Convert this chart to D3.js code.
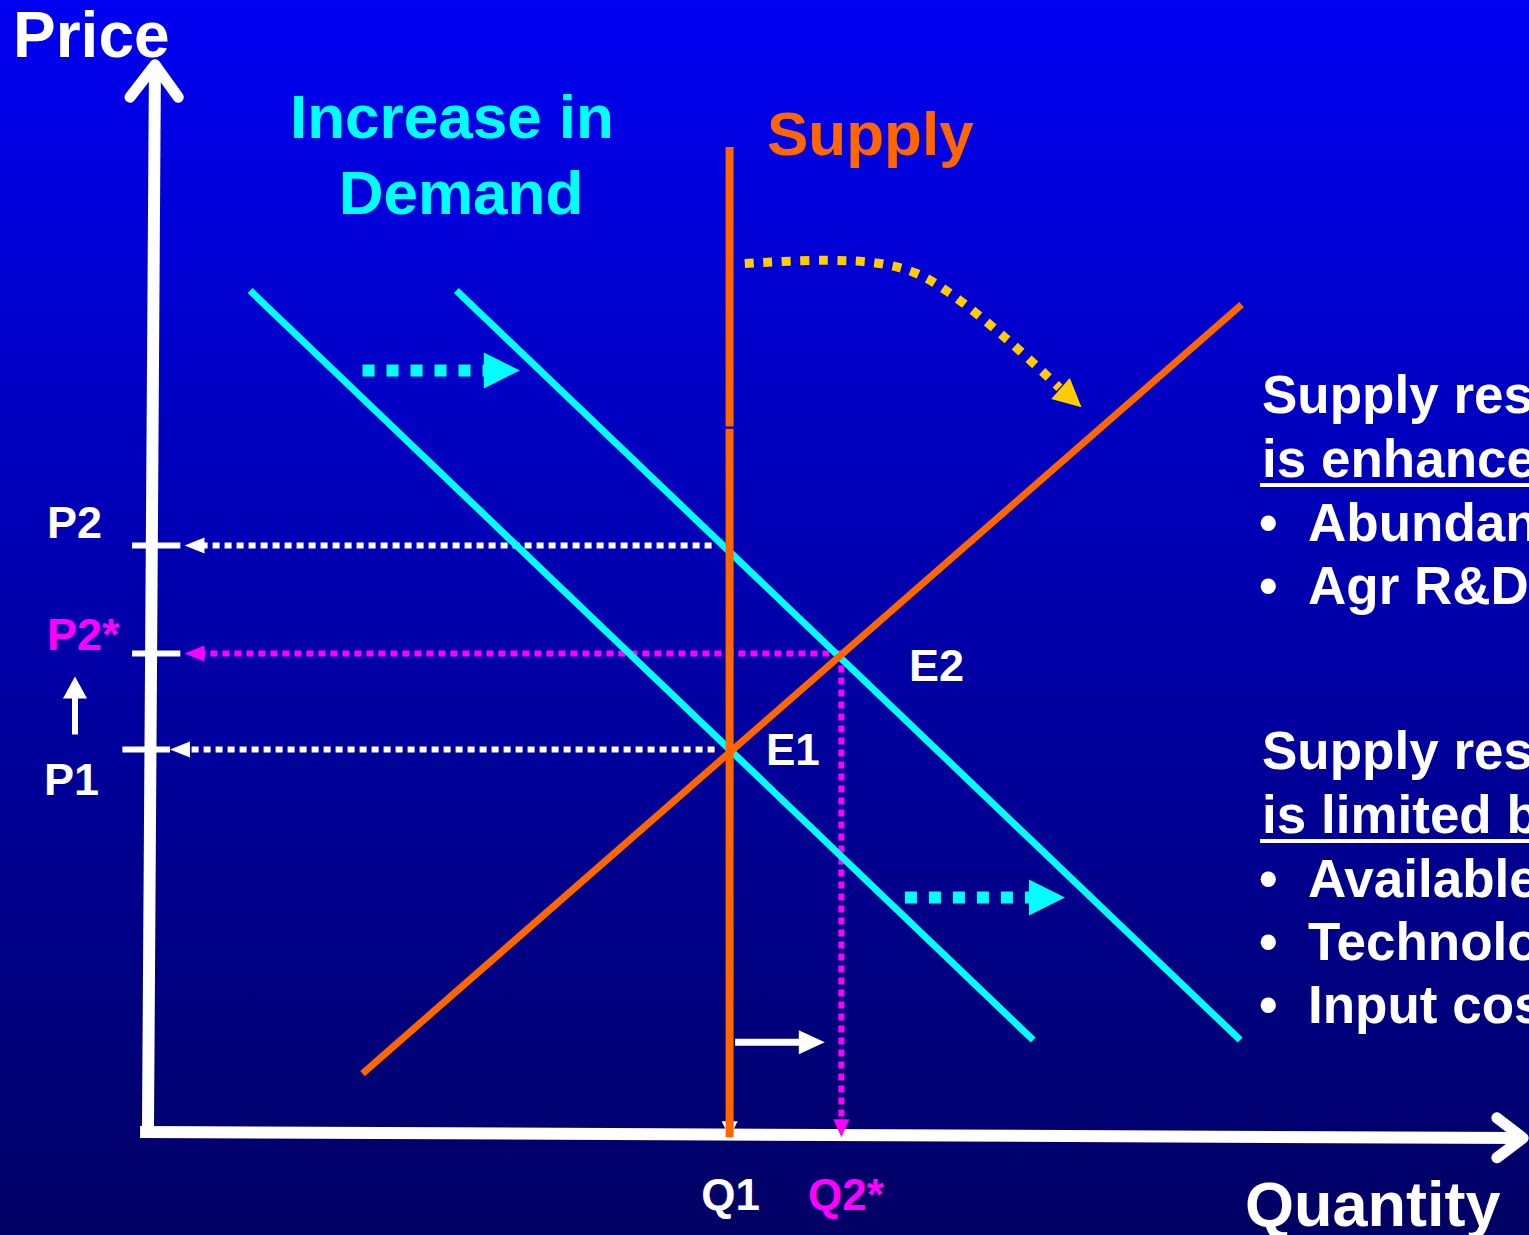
<!DOCTYPE html>
<html>
<head>
<meta charset="utf-8">
<script src="https://cdn.jsdelivr.net/npm/d3@7"></script>
<style>
  html, body { margin: 0; padding: 0; overflow: hidden; }
  svg { display: block; }
  text { font-family: "Liberation Sans", Arial, sans-serif; font-weight: bold; }
</style>
</head>
<body>
<svg id="chart"></svg>
<script>
// data, in chart units (quantity 0-100, price 0-100)
var demand1 = [[7.25, 78.1], [64.0, 8.7]];
var demand2 = [[22.2, 78.1], [79.0, 8.7]];
var supplyUp = [[15.4, 5.6], [79.1, 76.8]];
var supplyFixedQ = 42.0;
var supplyFixedTop = 91.4;

var priceLabels = ["P2", "P2*", "P1"];
var priceValues = [54.5, 44.5, 35.6];
var quantityLabels = ["Q1", "Q2*"];
var quantityValues = [42.0, 50.1];

// curve showing supply rotating out
var rotatePath = [[43.1, 80.6], [48.8, 80.9], [52.9, 80.6], [55.5, 79.7], [57.8, 78.0], [62.0, 73.7], [65.9, 69.1]];
var rotateTip = [67.5, 67.3];

var shiftD1 = [[15.4, 70.7], [26.8, 70.7]];
var shiftD2 = [[54.7, 21.9], [66.3, 21.9]];
var shiftQ = [[42.4, 8.5], [48.9, 8.5]];

var enhancedBy = ["Supply response", "is enhanced by:"];
var enhancedItems = ["Abundant resources", "Agr R&D"];
var limitedBy = ["Supply response", "is limited by:"];
var limitedItems = ["Available resources", "Technology", "Input costs"];

(function() {
    var width = 1529, height = 1235;

    var svg = d3.select("#chart")
        .attr("width", width)
        .attr("height", height);

    var x = d3.scaleLinear().domain([0, 100]).range([150, 1530]);
    var y = d3.scaleLinear().domain([0, 100]).range([1134, 54]);

    // background gradient
    var grad = svg.append("defs").append("linearGradient")
        .attr("id", "bg").attr("x1", 0).attr("y1", 0).attr("x2", 0).attr("y2", 1);
    grad.append("stop").attr("offset", "0%").attr("stop-color", "#0000f2");
    grad.append("stop").attr("offset", "100%").attr("stop-color", "#000064");
    svg.append("rect").attr("width", width).attr("height", height).attr("fill", "url(#bg)");

    var line = d3.line().x((d) => x(d[0])).y((d) => y(d[1]));

    // arrow helper: pixel coordinates from the scales
    function arrow(p0, p1, color, w, dash, headLen, headHalf) {
        var dx = p1[0] - p0[0], dy = p1[1] - p0[1];
        var len = Math.sqrt(dx * dx + dy * dy);
        var ux = dx / len, uy = dy / len;
        var bx = p1[0] - ux * headLen, by = p1[1] - uy * headLen;
        svg.append("line")
            .attr("x1", p0[0]).attr("y1", p0[1])
            .attr("x2", bx + ux * 2).attr("y2", by + uy * 2)
            .attr("stroke", color)
            .attr("stroke-width", w)
            .attr("stroke-dasharray", dash);
        svg.append("polygon")
            .attr("points", [
                [p1[0], p1[1]],
                [bx - uy * headHalf, by + ux * headHalf],
                [bx + uy * headHalf, by - ux * headHalf]
            ].map((p) => p.join(",")).join(" "))
            .attr("fill", color);
    }
    function px(d) { return [x(d[0]), y(d[1])]; }

    // axes
    svg.append("path")
        .attr("d", line([[-0.15, -0.2], [0.36, 99.0]]))
        .attr("stroke", "#fff").attr("stroke-width", 12).attr("fill", "none");
    svg.append("path")
        .attr("d", line([[-1.45, 96.0], [0.36, 99.0], [2.05, 96.0]]))
        .attr("stroke", "#fff").attr("stroke-width", 11).attr("fill", "none")
        .attr("stroke-linecap", "round").attr("stroke-linejoin", "round");
    svg.append("path")
        .attr("d", line([[-0.72, 0.19], [99.3, -0.37]]))
        .attr("stroke", "#fff").attr("stroke-width", 12).attr("fill", "none");
    svg.append("path")
        .attr("d", line([[97.6, 1.5], [99.5, -0.37], [97.6, -2.2]]))
        .attr("stroke", "#fff").attr("stroke-width", 11).attr("fill", "none")
        .attr("stroke-linecap", "round").attr("stroke-linejoin", "round");

    // price ticks
    var tickSpan = [[-1.3, 2.2], [-1.3, 2.2], [-2.0, 1.45]];
    priceValues.forEach(function(p, i) {
        svg.append("line")
            .attr("x1", x(tickSpan[i][0])).attr("x2", x(tickSpan[i][1]))
            .attr("y1", y(p)).attr("y2", y(p))
            .attr("stroke", "#fff").attr("stroke-width", 6);
    });

    // dotted price guides
    arrow([x(supplyFixedQ) - 18, y(priceValues[0])], [x(2.5), y(priceValues[0])], "#fff", 6, "7,5", 20, 8);
    arrow([x(quantityValues[1]), y(priceValues[1])], [x(2.5), y(priceValues[1])], "#ff00ff", 6, "7,5", 20, 8);
    arrow([x(quantityValues[0]) - 15, y(priceValues[2])], [x(1.45), y(priceValues[2])], "#fff", 6, "7,5", 20, 8);

    // white arrow hidden behind the vertical supply
    arrow([x(quantityValues[0]), y(priceValues[2])], [x(quantityValues[0]), y(-0.3)], "#fff", 4, "0,1000", 16, 8);

    // magenta guide down to Q2*
    arrow([x(quantityValues[1]), y(priceValues[1])], [x(quantityValues[1]), y(-0.3)], "#ff00ff", 6, "7,5", 18, 8);

    // demand curves
    [demand1, demand2].forEach(function(d) {
        svg.append("path").attr("d", line(d))
            .attr("stroke", "#00ffff").attr("stroke-width", 7).attr("fill", "none");
    });

    // supply curves
    svg.append("path").attr("d", line(supplyUp))
        .attr("stroke", "#ff6600").attr("stroke-width", 7).attr("fill", "none");
    svg.append("path").attr("d", line([[supplyFixedQ, supplyFixedTop], [supplyFixedQ, 65.5]]))
        .attr("stroke", "#ff6600").attr("stroke-width", 8).attr("fill", "none");
    svg.append("path").attr("d", line([[supplyFixedQ, 65.3], [supplyFixedQ, -0.3]]))
        .attr("stroke", "#ff6600").attr("stroke-width", 8).attr("fill", "none");

    // shift arrows
    arrow(px(shiftD1[0]), px(shiftD1[1]), "#00ffff", 12, "12,12", 36, 18);
    arrow(px(shiftD2[0]), px(shiftD2[1]), "#00ffff", 12, "12,12", 36, 18);
    arrow(px(shiftQ[0]), px(shiftQ[1]), "#fff", 7, null, 26, 12);

    // rotation curve
    svg.append("path")
        .attr("d", d3.line().x((d) => x(d[0])).y((d) => y(d[1])).curve(d3.curveCatmullRom)(rotatePath))
        .attr("stroke", "#ffcc00").attr("stroke-width", 9)
        .attr("stroke-dasharray", "9,9.5").attr("fill", "none");
    var last = px(rotatePath[rotatePath.length - 1]), tip = px(rotateTip);
    arrow([last[0] - 1, last[1] - 1], tip, "#ffcc00", 0.1, null, 28, 14);

    // texts
    function label(t, tx, ty, size, color, anchor) {
        return svg.append("text").text(t)
            .attr("x", tx).attr("y", ty)
            .attr("font-size", size + "px")
            .attr("fill", color)
            .attr("text-anchor", anchor || "start");
    }
    label("Price", 13, 57, 64, "#fff");
    label("Quantity", 1245, 1226, 63, "#fff");
    label("Increase in", 452, 138, 62, "#00ffff", "middle");
    label("Demand", 461, 214, 62, "#00ffff", "middle");
    label("Supply", 767, 155, 62, "#ff6600");
    label("E1", 766, 765, 44, "#fff");
    label("E2", 909, 681, 45, "#fff");

    var priceColors = ["#fff", "#ff00ff", "#fff"];
    var priceDy = [-7, -3, 45];
    var priceX = [47, 47, 44];
    priceLabels.forEach(function(t, i) {
        label(t, priceX[i], y(priceValues[i]) + priceDy[i], 45, priceColors[i]);
    });
    arrow([75, y(priceValues[2]) - 15], [75, y(priceValues[1]) + 23], "#fff", 6, null, 22, 12);

    var qColors = ["#fff", "#ff00ff"];
    quantityLabels.forEach(function(t, i) {
        label(t, i === 0 ? x(quantityValues[i]) + 1 : 808, 1210, 44, qColors[i], i === 0 ? "middle" : "start");
    });

    // side notes (run off the right edge, as in the slide)
    function block(heads, items, top) {
        heads.forEach(function(t, i) {
            label(t, 1262, top + i * 64, 53, "#fff");
        });
        svg.append("line")
            .attr("x1", 1260).attr("x2", width)
            .attr("y1", top + 72).attr("y2", top + 72)
            .attr("stroke", "#fff").attr("stroke-width", 4);
        items.forEach(function(t, i) {
            var by = top + 128 + i * 63;
            label("\u2022", 1259, by, 53, "#fff");
            label(t, 1308, by, 53, "#fff");
        });
    }
    block(enhancedBy, enhancedItems, 413);
    block(limitedBy, limitedItems, 769);
})();
</script>
</body>
</html>
